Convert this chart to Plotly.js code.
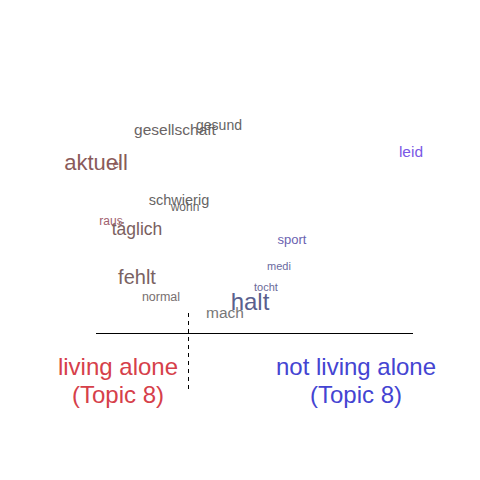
<!DOCTYPE html>
<html><head><meta charset="utf-8">
<script src="https://cdn.plot.ly/plotly-3.0.1.min.js"></script>
<style>html,body{margin:0;padding:0;background:#fff}#chart{width:480px;height:480px}</style>
</head><body><div id="chart"></div>
<script>
// word positions in plot units (x: keyness direction, y: arrangement)
const words  = ["gesellschaft","gesund","aktuell","ei","leid","schwierig","wohn","raus","täglich","sport","medi","tocht","fehlt","normal","halt","mach"];
const wordX  = [175,219,96,117,411,179,185,111,137,292,279,266,137,161,250,225];
const wordY  = [131,126,164,165,153,201,208,222,231,241,267,288,279,298,304,314];
const wordSize = [15.5,14,22,11,15.5,14.5,12,12,17.5,13,11,11,20,12.5,24,15.5];
const wordColor = ["#6a6464","#646464","#8a5a5a","#8a5a5a","#7a58e6","#666464","#666666","#a0606c","#7a6060","#6a62b0","#6a6aa0","#6a6a98","#7a6262","#787070","#5a5f8e","#777777"];

const groupNames = ["living alone","not living alone"];
const groupTopic = ["(Topic 8)","(Topic 8)"];
const groupX = [118,356];
const groupColor = ["#d6404a","#4444d2"];

const traces = [
  {type:"scatter", mode:"text", x:wordX, y:wordY, text:words, textposition:"middle center",
   textfont:{family:"Liberation Sans, Arial, sans-serif", size:wordSize, color:wordColor}, hoverinfo:"none"},
  {type:"scatter", mode:"lines", x:[96,413], y:[333.5,333.5], line:{color:"#000", width:1}, hoverinfo:"none"},
  {type:"scatter", mode:"lines", x:[188.5,188.5], y:[313,390], line:{color:"#000", width:1, dash:"4px,4px"}, hoverinfo:"none"},
  {type:"scatter", mode:"text", x:groupX, y:[368.5,368.5], text:groupNames, textposition:"middle center",
   textfont:{family:"Liberation Sans, Arial, sans-serif", size:24, color:groupColor}, hoverinfo:"none"},
  {type:"scatter", mode:"text", x:groupX, y:[397,397], text:groupTopic, textposition:"middle center",
   textfont:{family:"Liberation Sans, Arial, sans-serif", size:24, color:groupColor}, hoverinfo:"none"}
];
const layout = {
  width:480, height:480, margin:{l:0,r:0,t:0,b:0},
  paper_bgcolor:"#fff", plot_bgcolor:"#fff", showlegend:false,
  xaxis:{range:[0,480], visible:false, fixedrange:true},
  yaxis:{range:[480,0], visible:false, fixedrange:true}
};
Plotly.newPlot("chart", traces, layout, {displayModeBar:false, staticPlot:true});
</script></body></html>
